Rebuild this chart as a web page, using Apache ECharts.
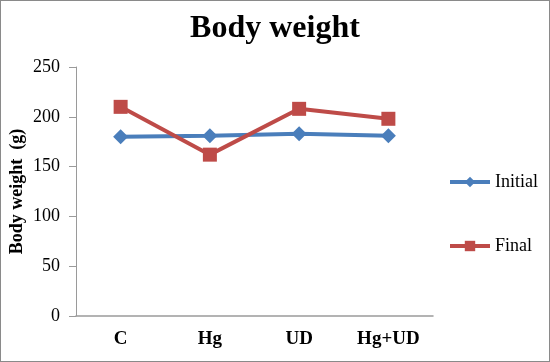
<!DOCTYPE html>
<html><head><meta charset="utf-8">
<script src="https://cdn.jsdelivr.net/npm/echarts@6/dist/echarts.min.js"></script>
<style>html,body{margin:0;padding:0;background:#fff}#c{width:550px;height:362px;box-sizing:border-box;border:1px solid #8a8a8a}</style>
</head><body><div id="c"></div>
<script>
const categories = ['C', 'Hg', 'UD', 'Hg+UD'];
const initialValues = [180, 181, 183, 181];
const finalValues = [210, 162, 208, 198];
const yTicks = [0, 50, 100, 150, 200, 250];
const seriesNames = ['Initial', 'Final'];

const chart = echarts.init(document.getElementById('c'));
const serif = '"Liberation Serif", "Times New Roman", serif';
chart.setOption({
  animation: false,
  title: { text: 'Body weight', left: 'center', top: 7,
    textStyle: { fontFamily: serif, fontSize: 32, fontWeight: 'bold', color: '#000' } },
  grid: { left: 75, right: 116, top: 66, bottom: 45, containLabel: false, outerBoundsMode: 'none' },
  legend: { orient: 'vertical', left: 442, top: 167, itemGap: 46, itemWidth: 40, itemHeight: 13,
    lineStyle: { width: 4 },
    textStyle: { fontFamily: serif, fontSize: 18, color: '#000' },
    data: seriesNames },
  xAxis: { type: 'category', data: categories, boundaryGap: true,
    axisLine: { lineStyle: { color: '#9a9a9a', width: 1.5 } },
    axisTick: { show: false },
    axisLabel: { fontFamily: serif, fontSize: 19, fontWeight: 'bold', color: '#000', margin: 14 } },
  yAxis: { type: 'value', min: yTicks[0], max: yTicks[yTicks.length - 1], interval: 50,
    name: 'Body weight  (g)', nameLocation: 'middle', nameGap: 50, nameRotate: 90, nameMoveOverlap: false,
    nameTextStyle: { fontFamily: serif, fontSize: 18, fontWeight: 'bold', color: '#000' },
    axisLine: { show: true, lineStyle: { color: '#9a9a9a', width: 1 } },
    axisTick: { show: true, length: 7, lineStyle: { color: '#9a9a9a' } },
    splitLine: { show: false },
    axisLabel: { fontFamily: serif, fontSize: 18, color: '#000', margin: 16 } },
  series: [
    { name: seriesNames[0], type: 'line', data: initialValues, symbol: 'diamond', symbolSize: 15,
      lineStyle: { color: '#4a7ebb', width: 4 }, itemStyle: { color: '#4a7ebb' } },
    { name: seriesNames[1], type: 'line', data: finalValues, symbol: 'rect', symbolSize: 14,
      lineStyle: { color: '#be4b48', width: 4 }, itemStyle: { color: '#be4b48' } }
  ]
});
</script></body></html>
